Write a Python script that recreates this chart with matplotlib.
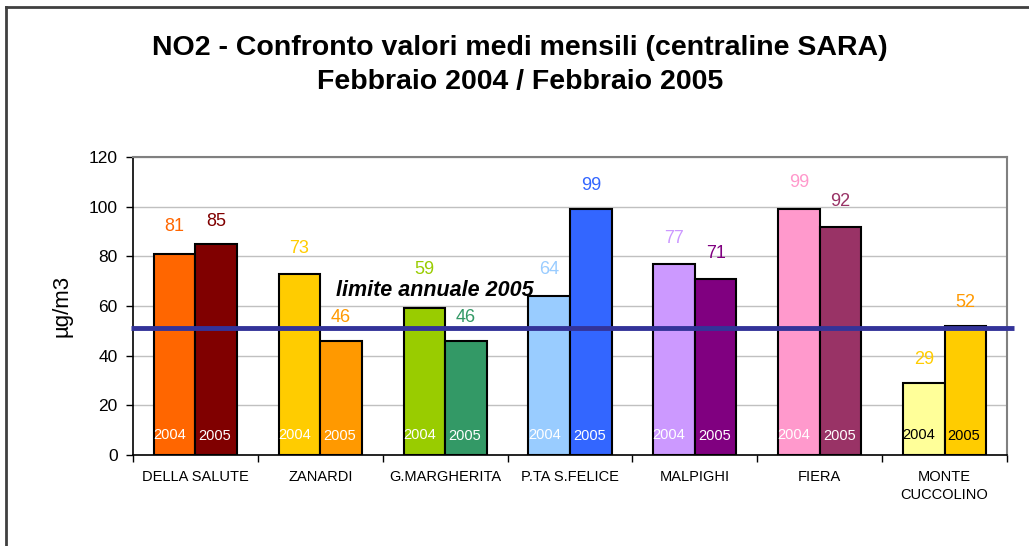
import matplotlib
matplotlib.use("Agg")
import matplotlib.pyplot as plt
from matplotlib.lines import Line2D
import numpy as np

plt.rcParams['font.family'] = ['Liberation Sans', 'DejaVu Sans']

stations = ["DELLA SALUTE", "ZANARDI", "G.MARGHERITA", "P.TA S.FELICE",
            "MALPIGHI", "FIERA", "MONTE\nCUCCOLINO"]
values_2004 = [81, 73, 59, 64, 77, 99, 29]
values_2005 = [85, 46, 46, 99, 71, 92, 52]
colors_2004 = ["#FF6600", "#FFCC00", "#99CC00", "#99CCFF", "#CC99FF", "#FF99CC", "#FFFF99"]
colors_2005 = ["#800000", "#FF9900", "#339966", "#3366FF", "#800080", "#993366", "#FFCC00"]
label_colors_2004 = ["#FF6600", "#FFCC00", "#99CC00", "#99CCFF", "#CC99FF", "#FF99CC", "#FFCC00"]
label_colors_2005 = ["#800000", "#FF9900", "#339966", "#3366FF", "#800080", "#993366", "#FF9900"]
year_text_colors = ["white"] * 6 + ["black"]
limit_value = 51
limit_label = "limite annuale 2005"

# label offsets in points (style, not data)
offsets_2004 = [20, 18, 28, 19, 18, 19, 17]
offsets_2005 = [16, 17, 17, 17, 18, 18, 17]

fig = plt.figure(figsize=(10.29, 5.46), dpi=100)
ax = fig.add_axes([0.1293, 0.1667, 0.9786 - 0.1293, 0.7125 - 0.1667])

x = np.arange(len(stations))
w = 0.333
ax.bar(x - w / 2, values_2004, w, color=colors_2004, edgecolor="black", linewidth=1.5, zorder=3)
ax.bar(x + w / 2, values_2005, w, color=colors_2005, edgecolor="black", linewidth=1.5, zorder=3)

for i in range(len(stations)):
    ax.annotate(str(values_2004[i]), (x[i] - w / 2, values_2004[i]), xytext=(0, offsets_2004[i]),
                textcoords="offset points", ha="center", va="center",
                fontsize=13, color=label_colors_2004[i], zorder=5)
    ax.annotate(str(values_2005[i]), (x[i] + w / 2, values_2005[i]), xytext=(0, offsets_2005[i]),
                textcoords="offset points", ha="center", va="center",
                fontsize=13, color=label_colors_2005[i], zorder=5)
    ax.text(x[i] - w / 2 - 0.04, 8, "2004", ha="center", va="center", fontsize=10.5,
            color=year_text_colors[i], zorder=5)
    ax.text(x[i] + w / 2 - 0.01, 7.5, "2005", ha="center", va="center", fontsize=10.5,
            color=year_text_colors[i], zorder=5)

ax.set_xlim(-0.5, len(stations) - 0.5)
ax.set_ylim(0, 120)
ax.set_yticks(np.arange(0, 121, 20))
ax.tick_params(axis="y", labelsize=12.5, length=5, width=1, direction="out", pad=6)
ax.yaxis.grid(True, color="#C0C0C0", linewidth=1, zorder=0)
ax.set_axisbelow(True)

ax.set_xticks(x)
ax.set_xticklabels(stations, fontsize=10.5, linespacing=1.35)
ax.tick_params(axis="x", length=0, pad=11)
ax.set_xticks(np.arange(-0.5, len(stations), 1), minor=True)
ax.tick_params(axis="x", which="minor", length=5, width=1, direction="out")

for s in ["left", "bottom"]:
    ax.spines[s].set_color("black")
    ax.spines[s].set_linewidth(1.2)
for s in ["top", "right"]:
    ax.spines[s].set_color("#808080")
    ax.spines[s].set_linewidth(1.5)

ax.set_ylabel("µg/m3", fontsize=16, labelpad=12)

# limit line extending slightly beyond axes
ax.plot([-0.515, len(stations) - 0.44], [limit_value, limit_value], color="#333399",
        linewidth=3.5, zorder=6, clip_on=False, solid_capstyle="butt")
ax.text(1.92, 66.3, limit_label, ha="center", va="center", fontsize=15.5,
        fontweight="bold", fontstyle="italic", color="black", zorder=7)

fig.text(0.505, 0.913, "NO2 - Confronto valori medi mensili (centraline SARA)",
         ha="center", va="center", fontsize=20.5, fontweight="bold")
fig.text(0.505, 0.849, "Febbraio 2004 / Febbraio 2005",
         ha="center", va="center", fontsize=20.5, fontweight="bold")

# outer chart frame (top and left visible)
fig.add_artist(Line2D([6 / 1029, 1.0], [1 - 7 / 546, 1 - 7 / 546], transform=fig.transFigure,
                      color="#404040", linewidth=2))
fig.add_artist(Line2D([6 / 1029, 6 / 1029], [0, 1 - 7 / 546], transform=fig.transFigure,
                      color="#404040", linewidth=2))

fig.savefig("out.png", dpi=100)
